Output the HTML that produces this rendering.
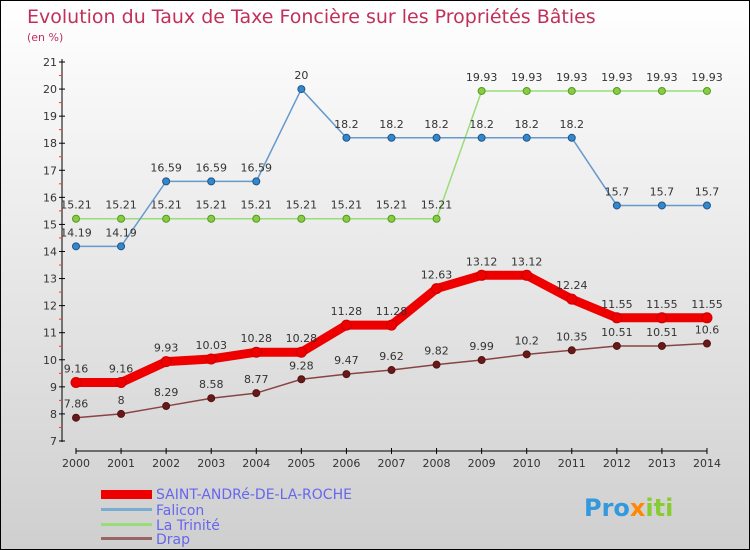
<!DOCTYPE html>
<html><head><meta charset="utf-8"><style>
body{margin:0}
#wrap{width:748px;height:548px;border:1px solid #000;background:linear-gradient(#ffffff,#cfcfcf);position:relative;font-family:"DejaVu Sans","Liberation Sans",sans-serif;overflow:hidden}
svg text{font-family:"DejaVu Sans","Liberation Sans",sans-serif}
</style></head><body>
<div id="wrap">
<svg id="chart" width="748" height="548">
<text x="26" y="22" font-size="19" fill="#c0305a">Evolution du Taux de Taxe Foncière sur les Propriétés Bâties</text>
<text x="26" y="40" font-size="11" fill="#c0305a">(en %)</text>
<g id="axes"></g><g id="series"></g>
<g>
<rect x="100" y="489" width="51" height="9" fill="#ee0000"/>
<text x="155" y="498" font-size="14" fill="#6666ee">SAINT-ANDRé-DE-LA-ROCHE</text>
<rect x="100" y="507" width="51" height="3" fill="#7aaed0"/>
<text x="155" y="514" font-size="14" fill="#6666ee">Falicon</text>
<rect x="100" y="522" width="51" height="3" fill="#99dd77"/>
<text x="155" y="529" font-size="14" fill="#6666ee">La Trinité</text>
<rect x="100" y="536" width="51" height="3" fill="#996666"/>
<text x="155" y="543" font-size="14" fill="#6666ee">Drap</text>
</g>
<g><text x="583" y="515" font-size="24" font-weight="bold" fill="#3399dd">Pro<tspan fill="#ff8800">x</tspan><tspan fill="#88cc33">iti</tspan></text></g>
</svg></div>
<script>
const years=[2000,2001,2002,2003,2004,2005,2006,2007,2008,2009,2010,2011,2012,2013,2014];
const saintAndre=[9.16,9.16,9.93,10.03,10.28,10.28,11.28,11.28,12.63,13.12,13.12,12.24,11.55,11.55,11.55];
const falicon=[14.19,14.19,16.59,16.59,16.59,20,18.2,18.2,18.2,18.2,18.2,18.2,15.7,15.7,15.7];
const laTrinite=[15.21,15.21,15.21,15.21,15.21,15.21,15.21,15.21,15.21,19.93,19.93,19.93,19.93,19.93,19.93];
const drap=[7.86,8,8.29,8.58,8.77,9.28,9.47,9.62,9.82,9.99,10.2,10.35,10.51,10.51,10.6];
const yTicks=[7,8,9,10,11,12,13,14,15,16,17,18,19,20,21];
const NS="http://www.w3.org/2000/svg";
const xS=i=>75+i*45.07;
const yS=v=>61+(21-v)*27.07;
function mk(t,a,p){const e=document.createElementNS(NS,t);for(const k in a)e.setAttribute(k,a[k]);p.appendChild(e);return e;}
const ax=document.getElementById('axes');
let l=mk('line',{x1:61,y1:58,x2:61,y2:441,stroke:'#000','stroke-width':1},ax);


l=mk('line',{x1:75,y1:450,x2:706,y2:450,stroke:'#000','stroke-width':1},ax);


yTicks.forEach(v=>{
 mk('line',{x1:58,y1:yS(v),x2:64,y2:yS(v),stroke:'#000'},ax);
 if(v<21)mk('line',{x1:58,y1:yS(v+0.5),x2:61,y2:yS(v+0.5),stroke:'#f33'},ax);
 const t=mk('text',{x:56,y:yS(v)+4,'font-size':11,fill:'#333','text-anchor':'end'},ax);t.textContent=v;
 
 
});
years.forEach((y,i)=>{
 mk('line',{x1:xS(i),y1:447,x2:xS(i),y2:453,stroke:'#000'},ax);
 const t=mk('text',{x:xS(i),y:466,'font-size':11,fill:'#333','text-anchor':'middle'},ax);t.textContent=y;
 
 
});
const sg=document.getElementById('series');
function series(data,name,color,w,dot,dotStroke,r){
 const g=mk('g',{},sg);
 
 
 mk('polyline',{points:data.map((v,i)=>xS(i)+','+yS(v)).join(' '),fill:'none',stroke:color,'stroke-width':w,'stroke-linejoin':'round'},g);
 data.forEach((v,i)=>{
  const c=mk('circle',{cx:xS(i),cy:yS(v),r:r,fill:dot,stroke:dotStroke},g);
  
  
  const t=mk('text',{x:xS(i),y:yS(v)-10,'font-size':11,fill:'#333','text-anchor':'middle'},g);t.textContent=v;
  
  
 });
}
series(drap,'drap','#884444',1.5,'#661a1a','#551111',3.5);
series(laTrinite,'la-trinite','#99dd77',1.5,'#88cc44','#559922',3.5);
series(falicon,'falicon','#6699cc',1.5,'#3388cc','#225588',3.5);
series(saintAndre,'saint-andre','#ee0000',9,'#ee0000','#cc0000',5);
</script>
</body></html>
